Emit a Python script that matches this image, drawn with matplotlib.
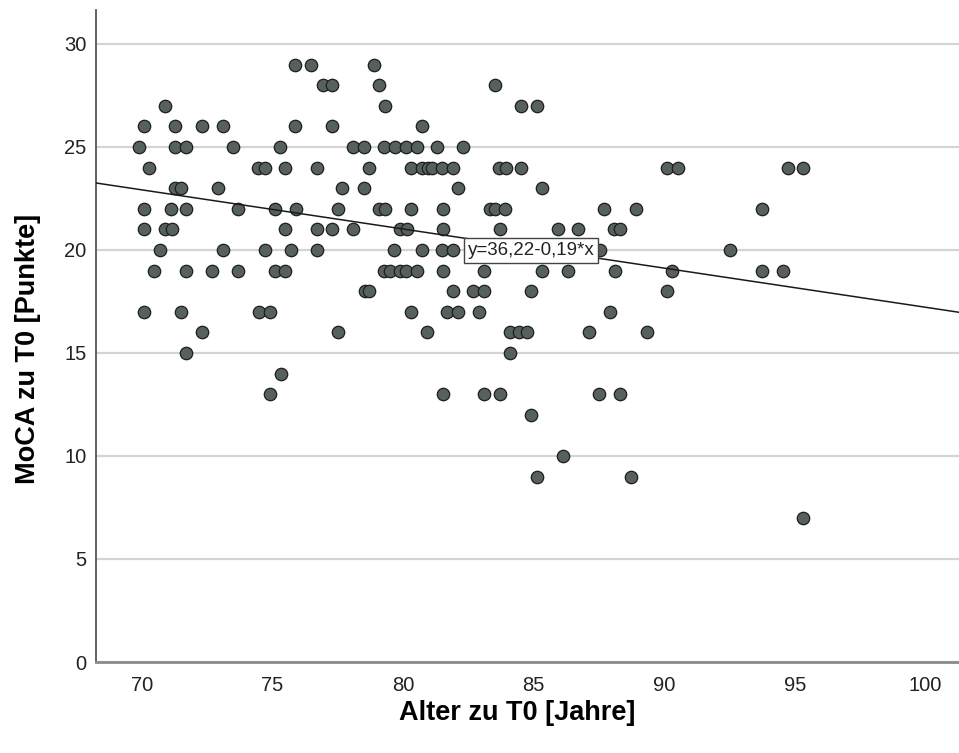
import matplotlib
matplotlib.use("Agg")
import matplotlib.pyplot as plt
import numpy as np

# age at T0 (years) and MoCA score at T0, one line per score
alter_t0 = [
    75.88, 76.49, 78.90,
    76.93, 77.27, 79.09, 83.52,
    70.89, 79.31, 84.50, 85.12,
    70.10, 71.29, 72.30, 73.10, 75.88, 77.29, 80.72,
    69.89, 71.29, 71.70, 73.51, 75.30, 78.07, 78.51, 79.29, 79.69, 80.10, 80.52, 81.29, 82.31,
    70.29, 74.46, 74.72, 75.48, 76.70, 78.70, 80.31, 80.72, 80.95, 81.10, 81.51, 81.92, 83.67, 83.93, 84.50, 90.10, 90.54, 94.72, 95.32,
    71.27, 71.50, 72.92, 77.68, 78.51, 82.12, 85.31,
    70.10, 71.12, 71.70, 73.70, 75.10, 75.89, 77.52, 79.08, 79.31, 80.31, 81.52, 83.33, 83.52, 83.90, 87.71, 88.92, 93.73,
    70.10, 70.89, 71.15, 75.48, 76.70, 77.29, 78.10, 79.89, 80.14, 81.52, 83.71, 85.92, 86.70, 88.07, 88.32,
    70.70, 73.10, 74.72, 75.71, 76.70, 79.66, 80.72, 81.51, 81.92, 87.54, 92.51,
    70.48, 71.70, 72.68, 73.70, 75.10, 75.48, 79.28, 79.50, 79.89, 80.10, 80.52, 81.52, 83.10, 85.31, 86.30, 88.11, 90.31, 93.73, 94.53,
    78.55, 78.70, 81.92, 82.69, 83.10, 84.90, 90.12,
    70.10, 71.50, 74.49, 74.91, 80.31, 81.70, 82.12, 82.92, 87.92,
    72.30, 77.52, 80.91, 84.09, 84.44, 84.73, 87.12, 89.32,
    71.70, 84.09,
    75.32,
    74.91, 81.52, 83.11, 83.71, 87.51, 88.30,
    84.90,
    86.12,
    85.12, 88.71,
    95.32,
]
moca_t0 = [
    29, 29, 29,
    28, 28, 28, 28,
    27, 27, 27, 27,
    26, 26, 26, 26, 26, 26, 26,
    25, 25, 25, 25, 25, 25, 25, 25, 25, 25, 25, 25, 25,
    24, 24, 24, 24, 24, 24, 24, 24, 24, 24, 24, 24, 24, 24, 24, 24, 24, 24, 24,
    23, 23, 23, 23, 23, 23, 23,
    22, 22, 22, 22, 22, 22, 22, 22, 22, 22, 22, 22, 22, 22, 22, 22, 22,
    21, 21, 21, 21, 21, 21, 21, 21, 21, 21, 21, 21, 21, 21, 21,
    20, 20, 20, 20, 20, 20, 20, 20, 20, 20, 20,
    19, 19, 19, 19, 19, 19, 19, 19, 19, 19, 19, 19, 19, 19, 19, 19, 19, 19, 19,
    18, 18, 18, 18, 18, 18, 18,
    17, 17, 17, 17, 17, 17, 17, 17, 17,
    16, 16, 16, 16, 16, 16, 16, 16,
    15, 15,
    14,
    13, 13, 13, 13, 13, 13,
    12,
    10,
    9, 9,
    7,
]

# fit line as printed on the chart
intercept = 36.22
slope = -0.19
fit_label = "y=36,22-0,19*x"

x_ticks = [70, 75, 80, 85, 90, 95, 100]
y_ticks = [0, 5, 10, 15, 20, 25, 30]

FONT = ["Liberation Sans", "DejaVu Sans"]
plt.rcParams["font.family"] = FONT

fig = plt.figure(figsize=(9.59, 7.53), dpi=100)
ax = fig.add_axes([96 / 959, 91 / 753, 863 / 959, 652 / 753])

ax.set_xlim(68.25, 101.28)
ax.set_ylim(0, 31.65)

ax.yaxis.grid(True, color="#d4d4d4", linewidth=1.6, zorder=0)
ax.set_axisbelow(True)

ax.scatter(alter_t0, moca_t0, s=80, facecolor="#56615b", edgecolor="#1e1e1e",
           linewidth=0.9, zorder=3)

xs = np.array(ax.get_xlim())
ax.plot(xs, intercept + slope * xs, color="#1a1a1a", linewidth=1.1, zorder=4)

ax.text(84.9, intercept + slope * 84.9 - 0.12, fit_label, ha="center", va="center",
        fontsize=13.5, color="#222222", zorder=5,
        bbox={"facecolor": "white", "edgecolor": "#444444", "linewidth": 1.0,
              "boxstyle": "square,pad=0.2"})

for side in ("top", "right"):
    ax.spines[side].set_visible(False)
ax.spines["left"].set_color("#555555")
ax.spines["left"].set_linewidth(1.3)
ax.spines["bottom"].set_color("#8a8a8a")
ax.spines["bottom"].set_linewidth(2.0)

ax.set_xticks(x_ticks)
ax.set_yticks(y_ticks)
ax.tick_params(axis="both", length=0, labelsize=14.5, labelcolor="#222222")
ax.tick_params(axis="x", pad=10)
ax.tick_params(axis="y", pad=7)

ax.set_xlabel("Alter zu T0 [Jahre]", fontsize=19.5, fontweight="bold")
ax.set_ylabel("MoCA zu T0 [Punkte]", fontsize=19.5, fontweight="bold")
ax.xaxis.set_label_coords(0.488, -0.058)
ax.yaxis.set_label_coords(-0.064, 0.48)

fig.savefig("out.png", dpi=100)
